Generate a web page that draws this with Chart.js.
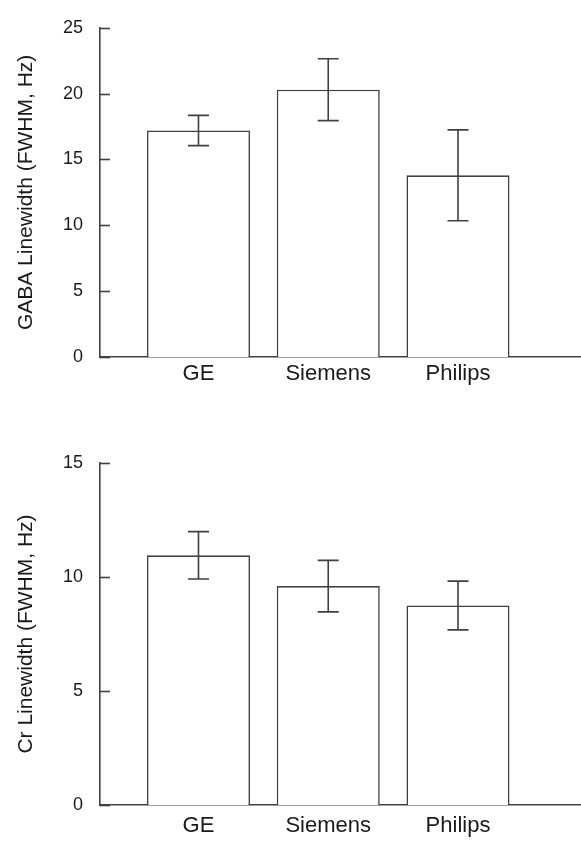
<!DOCTYPE html>
<html>
<head>
<meta charset="utf-8">
<script src="https://cdn.jsdelivr.net/npm/chart.js@4"></script>
<style>
    html, body { margin: 0; padding: 0; background: #fff; }
    .painel { position: absolute; left: 0; width: 581px; height: 423px; }
</style>
</head>
<body>
<div class="painel" style="top:0"><canvas id="graficoGaba"></canvas></div>
<div class="painel" style="top:423px"><canvas id="graficoCr"></canvas></div>
<script>
    var categorias = ['GE', 'Siemens', 'Philips'];

    var gabaValores = [17.2, 20.3, 13.8];
    var gabaErros = [1.15, 2.35, 3.45];
    var gabaTicks = [0, 5, 10, 15, 20, 25];

    var crValores = [10.95, 9.6, 8.75];
    var crErros = [1.04, 1.13, 1.07];
    var crTicks = [0, 5, 10, 15];

    var COR_LINHA = '#404040';
    var ESPESSURA = 1.6;
    var FONTE = '"Liberation Sans", Arial, Helvetica, sans-serif';

    /**
     * Ticks para dentro do eixo Y e barras de erro
     */
    var pluginTicksEErros = {
        id: 'ticksEErros',
        afterDatasetsDraw: function (chart, args, opts) {
            var ctx = chart.ctx;
            var xs = chart.scales.x;
            var ys = chart.scales.y;
            var area = chart.chartArea;

            ctx.save();
            ctx.strokeStyle = COR_LINHA;
            ctx.lineWidth = ESPESSURA;

            ys.ticks.forEach(function (t) {
                var y = Math.round(ys.getPixelForValue(t.value)) + 0.5;
                ctx.beginPath();
                ctx.moveTo(area.left, y);
                ctx.lineTo(area.left + 10, y);
                ctx.stroke();
            });

            var valores = opts.valores;
            var erros = opts.erros;
            for (var i = 0; i < valores.length; i++) {
                var x = xs.getPixelForValue(i + 1);
                var yAlto = ys.getPixelForValue(valores[i] + erros[i]);
                var yBaixo = ys.getPixelForValue(valores[i] - erros[i]);
                ctx.beginPath();
                ctx.moveTo(x, yAlto);
                ctx.lineTo(x, yBaixo);
                ctx.moveTo(x - 10.5, yAlto);
                ctx.lineTo(x + 10.5, yAlto);
                ctx.moveTo(x - 10.5, yBaixo);
                ctx.lineTo(x + 10.5, yBaixo);
                ctx.stroke();
            }
            ctx.restore();
        }
    };

    var montarGrafico = function (id, titulo, valores, erros, ticks, topo, base, paddingX) {
        var dados = valores.map(function (v, i) { return { x: i + 1, y: v }; });

        return new Chart(document.getElementById(id), {
            type: 'bar',
            data: {
                datasets: [{
                    data: dados,
                    backgroundColor: '#ffffff',
                    borderColor: COR_LINHA,
                    borderWidth: ESPESSURA,
                    borderSkipped: 'bottom',
                    categoryPercentage: 1,
                    barPercentage: 0.794
                }]
            },
            options: {
                responsive: true,
                maintainAspectRatio: false,
                animation: false,
                events: [],
                layout: { padding: { top: topo, right: 0, left: 0, bottom: 0 } },
                plugins: {
                    legend: { display: false },
                    tooltip: { enabled: false },
                    ticksEErros: { valores: valores, erros: erros }
                },
                scales: {
                    x: {
                        type: 'linear',
                        offset: false,
                        min: 0.241,
                        max: 3.948,
                        grid: { display: false, drawTicks: false },
                        border: { display: true, color: COR_LINHA, width: ESPESSURA },
                        afterBuildTicks: function (scale) {
                            scale.ticks = categorias.map(function (c, i) { return { value: i + 1 }; });
                        },
                        afterFit: function (scale) { scale.height = base; },
                        ticks: {
                            autoSkip: false,
                            maxRotation: 0,
                            padding: paddingX,
                            color: '#1a1a1a',
                            font: { family: FONTE, size: 22 },
                            callback: function (v) { return categorias[v - 1]; }
                        }
                    },
                    y: {
                        min: 0,
                        max: ticks[ticks.length - 1],
                        grid: { display: false, drawTicks: false },
                        border: { display: true, color: COR_LINHA, width: ESPESSURA },
                        afterBuildTicks: function (scale) {
                            scale.ticks = ticks.map(function (t) { return { value: t }; });
                        },
                        afterFit: function (scale) { scale.width = 100; },
                        ticks: {
                            padding: 17,
                            color: '#1a1a1a',
                            font: { family: FONTE, size: 18 }
                        },
                        title: {
                            display: true,
                            text: titulo,
                            color: '#1a1a1a',
                            padding: { top: 14, bottom: 0 },
                            font: { family: FONTE, size: 21, weight: 'normal' }
                        }
                    }
                }
            },
            plugins: [pluginTicksEErros]
        });
    };

    montarGrafico('graficoGaba', 'GABA Linewidth (FWHM, Hz)', gabaValores, gabaErros, gabaTicks, 15, 66, 4);
    montarGrafico('graficoCr', 'Cr Linewidth (FWHM, Hz)', crValores, crErros, crTicks, 40, 41, 8);
</script>
</body>
</html>
